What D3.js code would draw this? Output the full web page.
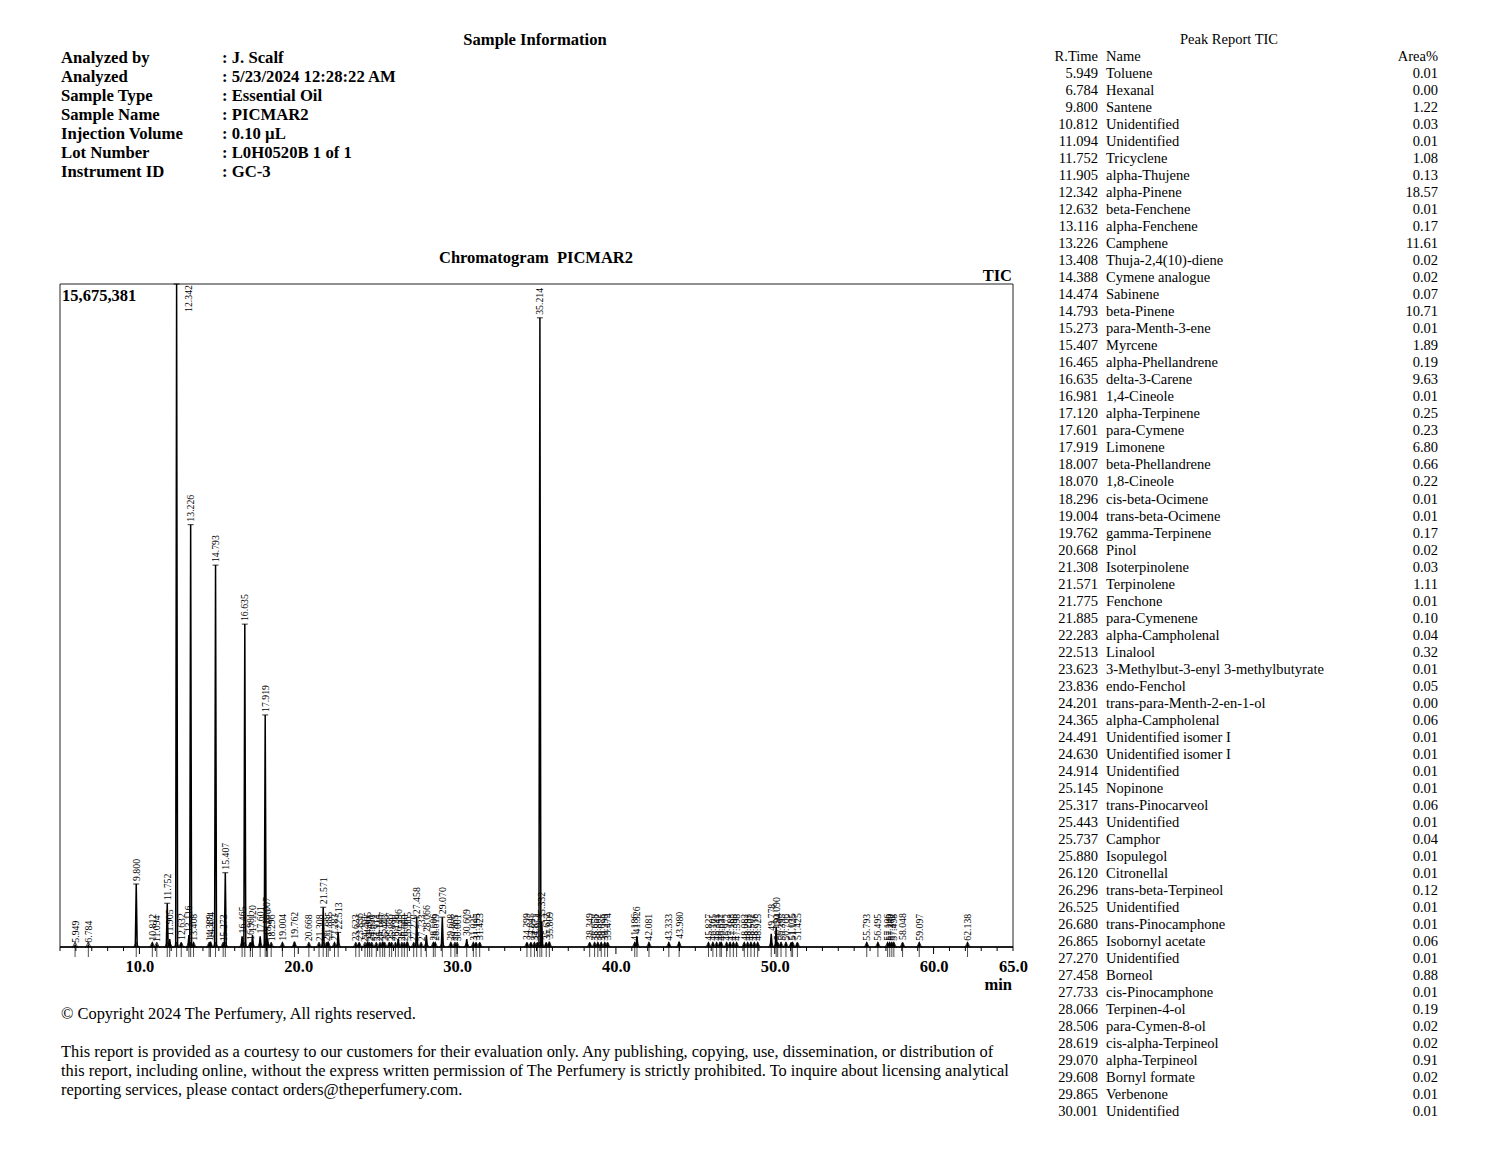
<!DOCTYPE html>
<html><head><meta charset="utf-8">
<script src="https://cdn.jsdelivr.net/npm/d3@7/dist/d3.min.js"></script>
<style>
html,body{margin:0;padding:0;background:#fff;}
svg{display:block;font-family:"Liberation Serif","Times New Roman",serif;}
</style></head>
<body>
<svg id="page" width="1500" height="1159"></svg>
<script>
// ---------- data ----------
const infoLabels = ["Analyzed by","Analyzed","Sample Type","Sample Name","Injection Volume","Lot Number","Instrument ID"];
const infoValues = [": J. Scalf",": 5/23/2024 12:28:22 AM",": Essential Oil",": PICMAR2",": 0.10 \u00B5L",": L0H0520B 1 of 1",": GC-3"];

const reportTimes = ["5.949","6.784","9.800","10.812","11.094","11.752","11.905","12.342","12.632","13.116","13.226","13.408","14.388","14.474","14.793","15.273","15.407","16.465","16.635","16.981","17.120","17.601","17.919","18.007","18.070","18.296","19.004","19.762","20.668","21.308","21.571","21.775","21.885","22.283","22.513","23.623","23.836","24.201","24.365","24.491","24.630","24.914","25.145","25.317","25.443","25.737","25.880","26.120","26.296","26.525","26.680","26.865","27.270","27.458","27.733","28.066","28.506","28.619","29.070","29.608","29.865","30.001"];
const reportNames = ["Toluene","Hexanal","Santene","Unidentified","Unidentified","Tricyclene","alpha-Thujene","alpha-Pinene","beta-Fenchene","alpha-Fenchene","Camphene","Thuja-2,4(10)-diene","Cymene analogue","Sabinene","beta-Pinene","para-Menth-3-ene","Myrcene","alpha-Phellandrene","delta-3-Carene","1,4-Cineole","alpha-Terpinene","para-Cymene","Limonene","beta-Phellandrene","1,8-Cineole","cis-beta-Ocimene","trans-beta-Ocimene","gamma-Terpinene","Pinol","Isoterpinolene","Terpinolene","Fenchone","para-Cymenene","alpha-Campholenal","Linalool","3-Methylbut-3-enyl 3-methylbutyrate","endo-Fenchol","trans-para-Menth-2-en-1-ol","alpha-Campholenal","Unidentified isomer I","Unidentified isomer I","Unidentified","Nopinone","trans-Pinocarveol","Unidentified","Camphor","Isopulegol","Citronellal","trans-beta-Terpineol","Unidentified","trans-Pinocamphone","Isobornyl acetate","Unidentified","Borneol","cis-Pinocamphone","Terpinen-4-ol","para-Cymen-8-ol","cis-alpha-Terpineol","alpha-Terpineol","Bornyl formate","Verbenone","Unidentified"];
const reportAreas = ["0.01","0.00","1.22","0.03","0.01","1.08","0.13","18.57","0.01","0.17","11.61","0.02","0.02","0.07","10.71","0.01","1.89","0.19","9.63","0.01","0.25","0.23","6.80","0.66","0.22","0.01","0.01","0.17","0.02","0.03","1.11","0.01","0.10","0.04","0.32","0.01","0.05","0.00","0.06","0.01","0.01","0.01","0.01","0.06","0.01","0.04","0.01","0.01","0.12","0.01","0.01","0.06","0.01","0.88","0.01","0.19","0.02","0.02","0.91","0.02","0.01","0.01"];

// chromatogram peaks: retention time (min) and apex height (% of full scale 15,675,381)
const peakTimes = [5.949,6.784,9.800,10.812,11.094,11.752,11.905,12.342,12.632,13.116,13.226,13.408,14.388,14.474,14.793,15.273,15.407,16.465,16.635,16.981,17.120,17.601,17.919,18.007,18.070,18.296,19.004,19.762,20.668,21.308,21.571,21.775,21.885,22.283,22.513,23.623,23.836,24.201,24.365,24.491,24.630,24.914,25.145,25.317,25.443,25.737,25.880,26.120,26.296,26.525,26.680,26.865,27.270,27.458,27.733,28.066,28.506,28.619,29.070,29.608,29.865,30.001,
  30.609,31.025,31.195,31.423,34.399,34.645,34.871,35.054,35.214,35.332,35.612,35.809,38.349,38.658,38.862,39.075,39.298,39.474,41.186,41.326,42.081,43.333,43.980,
  45.827,46.105,46.341,46.552,46.637,46.972,47.183,47.395,47.598,48.082,48.293,48.501,48.716,48.925,49.778,50.090,50.184,50.395,50.706,51.035,51.125,51.425,
  55.793,56.495,57.106,57.240,57.372,57.498,58.048,59.097,62.138];
const peakHeights = [0.2,0.2,9.5,0.5,0.3,6.6,1.2,100,0.6,1.8,63.7,0.5,0.4,0.8,57.6,0.4,11.2,1.6,48.7,0.6,1.8,1.6,35.0,3.0,1.2,0.4,0.5,0.8,0.4,0.4,6.0,0.4,0.8,0.5,2.2,0.4,0.6,0.3,0.8,0.4,0.4,0.4,0.4,0.8,0.4,0.7,0.4,0.4,1.2,0.4,0.4,0.8,0.4,4.5,0.4,1.8,0.5,0.5,4.5,0.5,0.4,0.4,
  1.2,0.5,0.6,0.6,0.6,0.6,0.5,0.6,94.9,3.8,0.6,0.8,0.6,0.5,0.5,0.5,0.5,0.6,0.5,1.6,0.5,0.5,0.8,
  0.5,0.5,0.5,0.5,0.5,0.5,0.5,0.5,0.5,0.5,0.5,0.5,0.5,0.5,2.0,3.0,0.6,0.5,0.5,0.6,0.5,0.6,
  0.5,0.5,0.5,0.5,0.5,0.5,0.6,0.5,0.5];
const xTickValues = [10,20,30,40,50,60,65];
const xTickLabels = ["10.0","20.0","30.0","40.0","50.0","60.0","65.0"];
const fullScaleLabel = "15,675,381";

// ---------- drawing ----------
const svg = d3.select("#page");
const L = 60, R = 1013, T = 284, B = 947;
const x = d3.scaleLinear().domain([5, 65]).range([L, R]);
const y = d3.scaleLinear().domain([0, 100]).range([B, T]);

// header
svg.append("text").attr("x", 535).attr("y", 39).attr("text-anchor","middle").attr("dominant-baseline","central")
  .attr("font-size",16.6).attr("font-weight","bold").text("Sample Information");
infoLabels.forEach((d,i)=>{
  svg.append("text").attr("x",61).attr("y",57+i*19).attr("dominant-baseline","central")
    .attr("font-size",16.7).attr("font-weight","bold").text(d);
  svg.append("text").attr("x",222).attr("y",57+i*19).attr("dominant-baseline","central")
    .attr("font-size",16.7).attr("font-weight","bold").text(infoValues[i]);
});

// chart titles
svg.append("text").attr("x",536).attr("y",257).attr("text-anchor","middle").attr("dominant-baseline","central")
  .attr("font-size",16.5).attr("font-weight","bold").style("white-space","pre").text("Chromatogram  PICMAR2");
svg.append("text").attr("x",1012).attr("y",275).attr("text-anchor","end").attr("dominant-baseline","central")
  .attr("font-size",16.5).attr("font-weight","bold").text("TIC");

// frame
svg.append("path").attr("d",`M${L},${B}V${T}H${R}V${B}`).attr("fill","none").attr("stroke","#222").attr("stroke-width",1);
svg.append("text").attr("x",62).attr("y",295).attr("dominant-baseline","central")
  .attr("font-size",16.5).attr("font-weight","bold").text(fullScaleLabel);

// baseline trace
svg.append("line").attr("x1",L).attr("x2",R).attr("y1",y(0)).attr("y2",y(0)).attr("stroke","#000").attr("stroke-width",1.2);

// peaks
const peaks = peakTimes.map((t,i)=>({t, h: peakHeights[i], label: t.toFixed(3)}));
const line = d3.line().x(d=>x(d[0])).y(d=>y(d[1]));
svg.append("g").selectAll("path").data(peaks).join("path")
  .attr("d", d=>line([[d.t-0.06,0],[d.t,d.h],[d.t+0.06,0]]))
  .attr("fill","none").attr("stroke","#000").attr("stroke-width",1.5);

// apex dashes
svg.append("g").selectAll("line").data(peaks.filter(d=>d.h>2)).join("line")
  .attr("x1",d=>x(d.t)-3).attr("x2",d=>x(d.t)+3).attr("y1",d=>y(d.h)).attr("y2",d=>y(d.h))
  .attr("stroke","#000").attr("stroke-width",0.8);

// peak labels
const lab = svg.append("g").attr("font-size",9.8);
peaks.forEach(d=>{
  const px = x(d.t), py = y(d.h);
  if (py - 30 < T) {
    lab.append("text").attr("transform",`translate(${px+12},${T+1}) rotate(-90)`)
      .attr("text-anchor","end").attr("dominant-baseline","central").text(d.label);
  } else {
    lab.append("text").attr("transform",`translate(${px},${Math.min(py,B)-3}) rotate(-90)`)
      .attr("text-anchor","start").attr("dominant-baseline","central").text(d.label);
  }
});

// peak markers at baseline
const mk = svg.append("g").attr("stroke","#000").attr("stroke-width",0.7).attr("fill","none");
peaks.forEach(d=>{
  const px = x(d.t);
  mk.append("line").attr("x1",px).attr("x2",px).attr("y1",B-4).attr("y2",B+10);
  mk.append("path").attr("d",`M${px-3},${B+1}L${px},${B-5}L${px+3},${B+1}`);
});

// x axis
const minor = d3.range(5, 66, 1);
svg.append("g").selectAll("line").data(minor).join("line")
  .attr("x1",d=>x(d)).attr("x2",d=>x(d)).attr("y1",B).attr("y2",d=> d%10===0 ? B+7 : B+4)
  .attr("stroke","#000").attr("stroke-width",1);
svg.append("line").attr("x1",L).attr("x2",R).attr("y1",B).attr("y2",B).attr("stroke","#000").attr("stroke-width",1.5);
const xAxis = d3.axisBottom(x).tickValues(xTickValues).tickFormat((d,i)=>xTickLabels[i]).tickSize(0).tickPadding(0);
const ax = svg.append("g").attr("transform",`translate(0,${B})`).call(xAxis);
ax.select(".domain").remove();
ax.selectAll("text").attr("font-family","Liberation Serif").attr("font-size",16.5).attr("font-weight","bold")
  .attr("fill","#000").attr("dy",null).attr("y",19).attr("dominant-baseline","central");
svg.append("text").attr("x",1012).attr("y",984).attr("text-anchor","end").attr("dominant-baseline","central")
  .attr("font-size",16.5).attr("font-weight","bold").text("min");

// footer
svg.append("text").attr("x",61).attr("y",1013).attr("dominant-baseline","central").attr("font-size",16.4)
  .text("\u00A9 Copyright 2024 The Perfumery, All rights reserved.");
const foot = ["This report is provided as a courtesy to our customers for their evaluation only. Any publishing, copying, use, dissemination, or distribution of",
  "this report, including online, without the express written permission of The Perfumery is strictly prohibited. To inquire about licensing analytical",
  "reporting services, please contact orders@theperfumery.com."];
foot.forEach((t,i)=>svg.append("text").attr("x",61).attr("y",1051+i*19).attr("dominant-baseline","central").attr("font-size",16.4).text(t));

// peak report table
const tb = svg.append("g").attr("font-size",14.5);
tb.append("text").attr("x",1229).attr("y",39).attr("text-anchor","middle").attr("dominant-baseline","central").text("Peak Report TIC");
tb.append("text").attr("x",1098).attr("y",56).attr("text-anchor","end").attr("dominant-baseline","central").text("R.Time");
tb.append("text").attr("x",1106).attr("y",56).attr("dominant-baseline","central").text("Name");
tb.append("text").attr("x",1438).attr("y",56).attr("text-anchor","end").attr("dominant-baseline","central").text("Area%");
reportTimes.forEach((t,i)=>{
  const yy = 73 + i*17.02;
  tb.append("text").attr("x",1098).attr("y",yy).attr("text-anchor","end").attr("dominant-baseline","central").text(t);
  tb.append("text").attr("x",1106).attr("y",yy).attr("dominant-baseline","central").text(reportNames[i]);
  tb.append("text").attr("x",1438).attr("y",yy).attr("text-anchor","end").attr("dominant-baseline","central").text(reportAreas[i]);
});
</script>
</body></html>
